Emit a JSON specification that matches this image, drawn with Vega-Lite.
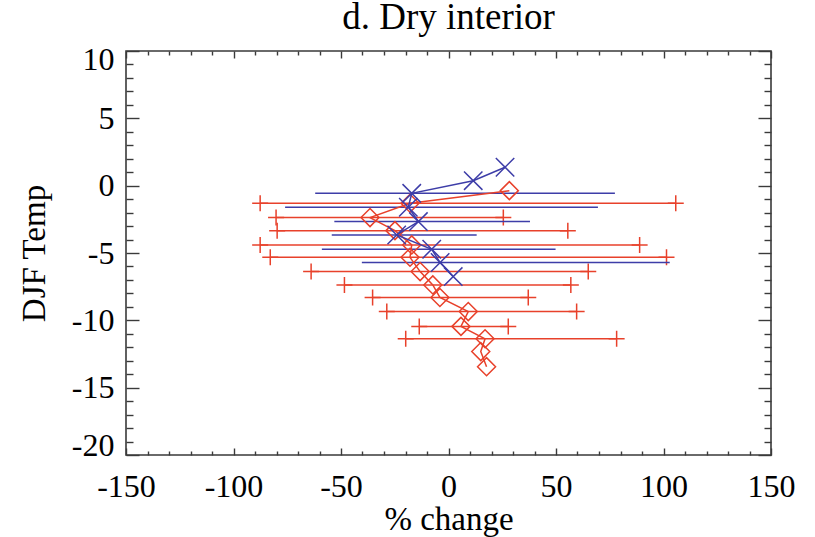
{
  "$schema": "https://vega.github.io/schema/vega-lite/v6.json",
  "autosize": "none",
  "width": 645,
  "height": 404,
  "padding": {"left": 126, "top": 51, "right": 44, "bottom": 82},
  "background": "white",
  "title": {"text": "d. Dry interior", "font": "Liberation Serif", "fontSize": 37, "fontWeight": "normal", "color": "#000", "anchor": "middle", "offset": 6},
  "config": {
    "view": {"stroke": "#3a3a3a", "strokeWidth": 1.6},
    "axis": {"labelFont": "Liberation Serif", "labelFontSize": 32, "labelColor": "#000", "titleFont": "Liberation Serif", "titleFontSize": 33, "titleFontWeight": "normal", "titleColor": "#000", "tickColor": "#3a3a3a", "tickWidth": 1.4, "grid": false, "domain": false}
  },
  "datasets": {
    "red": [
      {"t": -0.37, "p": 28.3},
      {"t": -1.31, "p": -17.9, "lo": -87.6, "hi": 105.7},
      {"t": -2.37, "p": -36.5, "lo": -80.2, "hi": 25.5},
      {"t": -3.34, "p": -24.9, "lo": -79.7, "hi": 55.5},
      {"t": -4.4, "p": -17.1, "lo": -87.6, "hi": 88.9},
      {"t": -5.32, "p": -17.9, "lo": -82.9, "hi": 101.4},
      {"t": -6.38, "p": -13.2, "lo": -63.9, "hi": 65.0},
      {"t": -7.37, "p": -7.3, "lo": -48.4, "hi": 56.9},
      {"t": -8.3, "p": -4.0, "lo": -35.3, "hi": 37.1},
      {"t": -9.35, "p": 9.2, "lo": -28.7, "hi": 59.6},
      {"t": -10.45, "p": 5.8, "lo": -13.6, "hi": 27.8},
      {"t": -11.37, "p": 17.0, "lo": -19.9, "hi": 78.2},
      {"t": -12.32, "p": 15.0},
      {"t": -13.44, "p": 17.7}
    ],
    "blue": [
      {"t": 1.37, "p": 26.3},
      {"t": 0.37, "p": 11.5},
      {"t": -0.57, "p": -17.1, "lo": -62, "hi": 77.4},
      {"t": -1.6, "p": -18.7, "lo": -76, "hi": 69.5},
      {"t": -2.67, "p": -14.0, "lo": -53.1, "hi": 37.9},
      {"t": -3.66, "p": -24.1, "lo": -54.3, "hi": 13.1},
      {"t": -4.72, "p": -7.8, "lo": -58.9, "hi": 49.8},
      {"t": -5.71, "p": -3.9, "lo": -40.3, "hi": 102.9},
      {"t": -6.75, "p": 2.2}
    ]
  },
  "resolve": {"axis": {"x": "independent", "y": "independent"}},
  "layer": [
    {
      "data": {"name": "red"},
      "mark": {"type": "rule", "color": "#e8412b", "strokeWidth": 1.5},
      "encoding": {
        "x": {"field": "lo", "type": "quantitative", "scale": {"domain": [-150, 150], "nice": false, "zero": false},
          "axis": {"orient": "bottom", "values": [-150, -100, -50, 0, 50, 100, 150], "title": "% change", "labelFlush": false, "tickSize": -7, "labelPadding": 23, "titlePadding": 1, "labelOverlap": false, "labelExpr": "replace(datum.label, '\u2212', '-')"}},
        "x2": {"field": "hi"},
        "y": {"field": "t", "type": "quantitative", "scale": {"domain": [-20, 10], "nice": false, "zero": false},
          "axis": {"orient": "left", "values": [-20, -15, -10, -5, 0, 5, 10], "title": "DJF Temp", "labelFlush": true, "labelFlushOffset": 7, "tickSize": -13, "labelPadding": 25, "titlePadding": 20, "labelOverlap": false, "labelExpr": "replace(datum.label, '\u2212', '-')"}}
      }
    },
    {
      "data": {"name": "red"},
      "mark": {"type": "point", "shape": "M-1,0L1,0M0,-1L0,1", "size": 256, "filled": false, "stroke": "#e8412b", "strokeWidth": 1.5, "opacity": 1},
      "encoding": {
        "x": {"field": "lo", "type": "quantitative", "scale": {"domain": [-150, 150], "nice": false, "zero": false},
          "axis": {"orient": "bottom", "values": [-140, -130, -120, -110, -90, -80, -70, -60, -40, -30, -20, -10, 10, 20, 30, 40, 60, 70, 80, 90, 110, 120, 130, 140], "title": null, "labels": false, "tickSize": -4}},
        "y": {"field": "t", "type": "quantitative", "scale": {"domain": [-20, 10], "nice": false, "zero": false},
          "axis": {"orient": "left", "values": [-19, -18, -17, -16, -14, -13, -12, -11, -9, -8, -7, -6, -4, -3, -2, -1, 1, 2, 3, 4, 6, 7, 8, 9], "title": null, "labels": false, "tickSize": -7}}
      }
    },
    {
      "data": {"name": "red"},
      "mark": {"type": "point", "shape": "M-1,0L1,0M0,-1L0,1", "size": 256, "filled": false, "stroke": "#e8412b", "strokeWidth": 1.5, "opacity": 1},
      "encoding": {
        "x": {"field": "hi", "type": "quantitative", "scale": {"domain": [-150, 150], "nice": false, "zero": false},
          "axis": {"orient": "top", "values": [-150, -100, -50, 0, 50, 100, 150], "title": null, "labels": false, "tickSize": -7}},
        "y": {"field": "t", "type": "quantitative", "scale": {"domain": [-20, 10], "nice": false, "zero": false},
          "axis": {"orient": "right", "values": [-20, -15, -10, -5, 0, 5, 10], "title": null, "labels": false, "tickSize": -13}}
      }
    },
    {
      "data": {"name": "blue"},
      "mark": {"type": "rule", "color": "#3d3da8", "strokeWidth": 1.5},
      "encoding": {
        "x": {"field": "lo", "type": "quantitative", "scale": {"domain": [-150, 150], "nice": false, "zero": false},
          "axis": {"orient": "top", "values": [-140, -130, -120, -110, -90, -80, -70, -60, -40, -30, -20, -10, 10, 20, 30, 40, 60, 70, 80, 90, 110, 120, 130, 140], "title": null, "labels": false, "tickSize": -4}},
        "x2": {"field": "hi"},
        "y": {"field": "t", "type": "quantitative", "scale": {"domain": [-20, 10], "nice": false, "zero": false},
          "axis": {"orient": "right", "values": [-19, -18, -17, -16, -14, -13, -12, -11, -9, -8, -7, -6, -4, -3, -2, -1, 1, 2, 3, 4, 6, 7, 8, 9], "title": null, "labels": false, "tickSize": -7}}
      }
    },
    {
      "mark": {"type": "rule", "color": "#4a4242", "strokeWidth": 1.8},
      "encoding": {"x": {"datum": 0, "type": "quantitative", "axis": null}}
    },
    {
      "data": {"name": "red"},
      "mark": {"type": "line", "color": "#e8412b", "strokeWidth": 1.5},
      "encoding": {
        "x": {"field": "p", "type": "quantitative", "axis": null},
        "y": {"field": "t", "type": "quantitative", "axis": null},
        "order": {"field": "t", "sort": "descending"}
      }
    },
    {
      "data": {"name": "red"},
      "mark": {"type": "point", "shape": "diamond", "size": 324, "filled": false, "stroke": "#e8412b", "strokeWidth": 1.5, "opacity": 1},
      "encoding": {
        "x": {"field": "p", "type": "quantitative", "axis": null},
        "y": {"field": "t", "type": "quantitative", "axis": null}
      }
    },
    {
      "data": {"name": "blue"},
      "mark": {"type": "line", "color": "#3d3da8", "strokeWidth": 1.5},
      "encoding": {
        "x": {"field": "p", "type": "quantitative", "axis": null},
        "y": {"field": "t", "type": "quantitative", "axis": null},
        "order": {"field": "t", "sort": "descending"}
      }
    },
    {
      "data": {"name": "blue"},
      "mark": {"type": "point", "shape": "M-1,-1L1,1M1,-1L-1,1", "size": 340, "filled": false, "stroke": "#3d3da8", "strokeWidth": 1.5, "opacity": 1},
      "encoding": {
        "x": {"field": "p", "type": "quantitative", "axis": null},
        "y": {"field": "t", "type": "quantitative", "axis": null}
      }
    }
  ]
}
